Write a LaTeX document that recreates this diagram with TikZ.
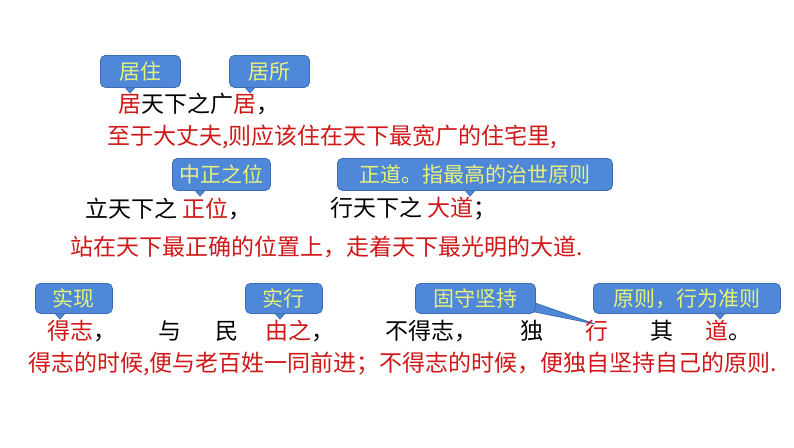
\documentclass[tikz,border=0pt]{standalone}
\usepackage{fontspec}
\setmainfont{Noto Sans CJK SC}
\definecolor{cfill}{HTML}{4F88D8}
\definecolor{cdraw}{HTML}{3D6DB5}
\definecolor{ctext}{HTML}{E8F27A}
\definecolor{rd}{HTML}{D01818}
\begin{document}
\begin{tikzpicture}[x=1pt,y=-1pt,
  call/.style={fill=cfill,draw=cdraw,line width=0.8pt,rounded corners=5pt,text=ctext,font=\fontsize{21}{21}\selectfont,anchor=north west,inner sep=0pt},
  tail/.style={fill=cfill,draw=cdraw,line width=0.8pt},
  txt/.style={anchor=west,inner sep=0pt,font=\fontsize{23}{23}\selectfont},
  rtxt/.style={txt,text=rd}]
\useasboundingbox[fill=white] (0,0) rectangle (794,447);
\newcommand{\callout}[7]{% name,x1,y1,x2,y2,tailx,text
  \filldraw[tail] (#6-7,#5-2) -- (#6,#5+6) -- (#6+7,#5-2) -- cycle;
  \node[call,minimum width=#4-#2,minimum height=#5-#3] (#1) at (#2,#3) {#7};}
% row 1
\callout{c1}{100}{55}{180}{87}{130}{居住}
\callout{c2}{229}{55}{309}{87}{250}{居所}
\node[txt] (l1) at (118,104) {\textcolor{rd}{居}天下之广\textcolor{rd}{居}，};
\node[rtxt] (l2) at (107,137) {至于大丈夫,则应该住在天下最宽广的住宅里,};
% row 2
\callout{c3}{172}{158}{270}{190}{200}{中正之位}
\callout{c4}{337}{158}{612}{190}{470}{正道。指最高的治世原则}
\node[txt] (l3a) at (85,209) {立天下之 \textcolor{rd}{正位}，};
\node[txt] (l3b) at (330,209) {行天下之 \textcolor{rd}{大道}；};
\node[rtxt] (l4) at (70,247) {站在天下最正确的位置上，走着天下最光明的大道.};
% row 3
\callout{c5}{35}{283}{112}{313}{60}{实现}
\callout{c6}{245}{283}{322}{313}{280}{实行}
\coordinate (tip) at (595,324);
\filldraw[tail] (500,305) -- (tip) -- (515,296) -- cycle;
\node[call,minimum width=120,minimum height=30] (c7) at (415,283) {固守坚持};
\callout{c8}{593}{283}{780}{313}{720}{原则，行为准则}
\node[rtxt] (w1) at (47,331) {得志\textcolor{black}{，}};
\node[txt] (w2) at (158,331) {与};
\node[txt] (w3) at (215,331) {民};
\node[txt] (w4) at (265,331) {\textcolor{rd}{由之}，};
\node[txt] (w5) at (385,331) {不得志，};
\node[txt] (w6) at (520,331) {独};
\node[rtxt] (w7) at (585,331) {行};
\node[txt] (w8) at (650,331) {其};
\node[txt] (w9) at (705,331) {\textcolor{rd}{道}。};
\node[rtxt] (l6) at (28,364) {得志的时候,便与老百姓一同前进；不得志的时候，便独自坚持自己的原则.};
\end{tikzpicture}
\end{document}
